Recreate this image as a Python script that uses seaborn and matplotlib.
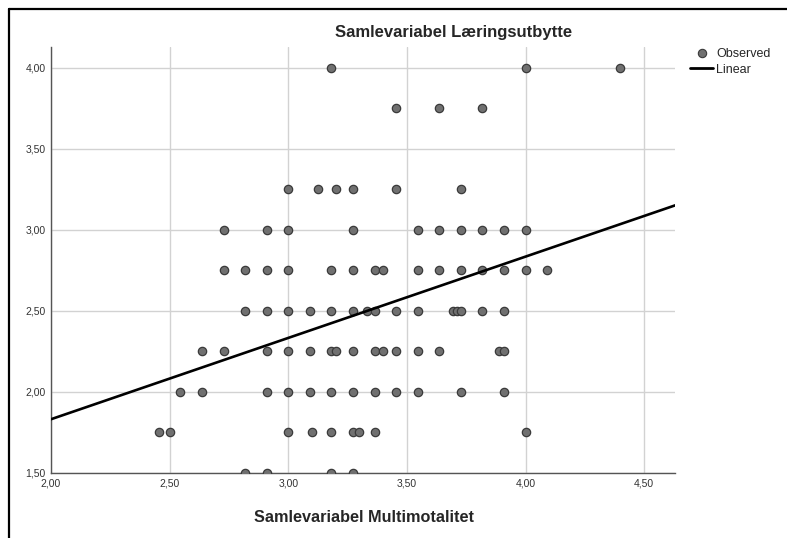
import numpy as np
import pandas as pd
import seaborn as sns
import matplotlib.pyplot as plt
from matplotlib.lines import Line2D
from matplotlib.ticker import FuncFormatter

# observed points, grouped by y value (x positions)
row_400 = [3.18, 4.00, 4.40]
row_375 = [3.4545, 3.6364, 3.8182]
row_325 = [3.00, 3.125, 3.20, 3.2727, 3.4545, 3.7273]
row_300 = [2.7273, 2.9091, 3.00, 3.2727, 3.5455, 3.6364, 3.7273, 3.8182, 3.9091, 4.00]
row_275 = [2.7273, 2.8182, 2.9091, 3.00, 3.1818, 3.2727, 3.3636, 3.40, 3.5455, 3.6364,
           3.7273, 3.8182, 3.9091, 4.00, 4.0909]
row_250 = [2.8182, 2.9091, 3.00, 3.0909, 3.1818, 3.2727, 3.3333, 3.3636, 3.4545, 3.5455,
           3.695, 3.712, 3.7273, 3.8182, 3.9091]
row_225 = [2.6364, 2.7273, 2.9091, 3.00, 3.0909, 3.1818, 3.20, 3.2727, 3.3636, 3.40,
           3.4545, 3.5455, 3.6364, 3.888, 3.9091]
row_200 = [2.5455, 2.6364, 2.9091, 3.00, 3.0909, 3.1818, 3.2727, 3.3636, 3.4545, 3.5455,
           3.7273, 3.9091]
row_175 = [2.4545, 2.50, 3.00, 3.10, 3.1818, 3.2727, 3.30, 3.3636, 4.00]
row_150 = [2.8182, 2.9091, 3.1818, 3.2727]

rows = {4.00: row_400, 3.75: row_375, 3.25: row_325, 3.00: row_300, 2.75: row_275,
        2.50: row_250, 2.25: row_225, 2.00: row_200, 1.75: row_175, 1.50: row_150}

# linear fit as shown on the chart
fit_intercept = 0.826
fit_slope = 0.502

x_ticks = [2.0, 2.5, 3.0, 3.5, 4.0, 4.5]
y_ticks = [1.5, 2.0, 2.5, 3.0, 3.5, 4.0]
x_lim = (2.0, 4.631)
y_lim = (1.5, 4.13)

df = pd.DataFrame([(x, y) for y, xs in rows.items() for x in xs], columns=["multi", "laering"])
fit = pd.DataFrame({"multi": list(x_lim)})
fit["laering"] = fit_intercept + fit_slope * fit["multi"]

sns.set_style("white")
plt.rcParams["font.family"] = ["Liberation Sans", "DejaVu Sans"]

fig = plt.figure(figsize=(7.87, 5.38), dpi=100)
ax = fig.add_axes([0.0648, 0.1214, 0.858 - 0.0648, 0.9132 - 0.1214])

sns.scatterplot(data=df, x="multi", y="laering", ax=ax, s=36, color="#707070",
                edgecolor="#3a3a3a", linewidth=0.9, zorder=3, legend=False)
sns.lineplot(data=fit, x="multi", y="laering", ax=ax, color="black", linewidth=1.9,
             zorder=4, legend=False)

ax.set_xlim(*x_lim)
ax.set_ylim(*y_lim)
ax.set_xticks(x_ticks)
ax.set_yticks(y_ticks)
comma = FuncFormatter(lambda v, p: f"{v:.2f}".replace(".", ","))
ax.xaxis.set_major_formatter(comma)
ax.yaxis.set_major_formatter(comma)
ax.tick_params(length=0, labelsize=7.5, labelcolor="#333333", pad=4)
ax.grid(True, color="#d2d2d2", linewidth=1.0)
ax.set_axisbelow(True)
for side in ["top", "right"]:
    ax.spines[side].set_visible(False)
for side in ["left", "bottom"]:
    ax.spines[side].set_color("#555555")
    ax.spines[side].set_linewidth(1.0)
ax.set_xlabel("")
ax.set_ylabel("")

fig.text(454 / 787, 1 - 33 / 538, "Samlevariabel Læringsutbytte", ha="center", va="center",
         fontsize=12, fontweight="bold")
fig.text(364 / 787, 1 - 518 / 538, "Samlevariabel Multimotalitet", ha="center", va="center",
         fontsize=11.7, fontweight="bold")

handles = [
    Line2D([], [], marker="o", linestyle="none", markersize=6, markerfacecolor="#707070",
           markeredgecolor="#3a3a3a", markeredgewidth=0.8, label="Observed"),
    Line2D([], [], color="black", linewidth=2.0, label="Linear"),
]
fig.legend(handles=handles, loc="upper left", bbox_to_anchor=(690 / 787, 1 - 48 / 538),
           frameon=False, fontsize=9, handlelength=1.85, handletextpad=0.25,
           labelspacing=0.3, borderaxespad=0, borderpad=0)

# outer frame (top and left edges visible)
fig.add_artist(Line2D([9 / 787, 1.0], [1 - 9 / 538, 1 - 9 / 538], transform=fig.transFigure,
                      color="black", linewidth=1.6))
fig.add_artist(Line2D([9 / 787, 9 / 787], [0.0, 1 - 9 / 538], transform=fig.transFigure,
                      color="black", linewidth=1.6))

fig.savefig("out.png", dpi=100)
